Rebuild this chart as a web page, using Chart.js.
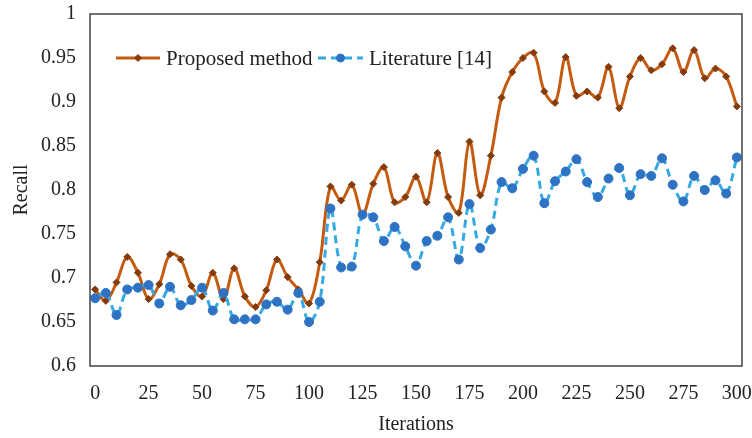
<!DOCTYPE html>
<html>
<head>
<meta charset="utf-8">
<script src="https://cdn.jsdelivr.net/npm/chart.js@4"></script>
<style>
  html, body { margin: 0; padding: 0; background: #fff; }
  #wrap { width: 752px; height: 438px; }
</style>
</head>
<body>
<div id="wrap"><canvas id="myChart" width="752" height="438"></canvas></div>
<script>
const iterations = [0, 5, 10, 15, 20, 25, 30, 35, 40, 45, 50, 55, 60, 65, 70, 75, 80, 85, 90, 95,
  100, 105, 110, 115, 120, 125, 130, 135, 140, 145, 150, 155, 160, 165, 170, 175, 180, 185, 190, 195,
  200, 205, 210, 215, 220, 225, 230, 235, 240, 245, 250, 255, 260, 265, 270, 275, 280, 285, 290, 295, 300];

const proposed = [0.687, 0.674, 0.695, 0.724, 0.706, 0.676, 0.693, 0.727, 0.721, 0.691,
  0.679, 0.706, 0.676, 0.711, 0.679, 0.667, 0.686, 0.721, 0.701, 0.687,
  0.671, 0.718, 0.804, 0.788, 0.806, 0.772, 0.807, 0.826, 0.786, 0.792,
  0.815, 0.786, 0.842, 0.792, 0.774, 0.855, 0.794, 0.839, 0.905, 0.934,
  0.950, 0.956, 0.912, 0.899, 0.951, 0.907, 0.912, 0.905, 0.940, 0.893,
  0.929, 0.950, 0.936, 0.943, 0.961, 0.934, 0.959, 0.927, 0.938, 0.929, 0.895];

const literature = [0.677, 0.683, 0.658, 0.687, 0.689, 0.692, 0.671, 0.690, 0.669, 0.675,
  0.689, 0.663, 0.683, 0.653, 0.653, 0.653, 0.670, 0.673, 0.664, 0.683,
  0.650, 0.673, 0.779, 0.712, 0.713, 0.772, 0.769, 0.742, 0.758, 0.736,
  0.714, 0.742, 0.748, 0.769, 0.721, 0.784, 0.734, 0.755, 0.809, 0.802,
  0.824, 0.839, 0.785, 0.810, 0.821, 0.835, 0.809, 0.792, 0.813, 0.825,
  0.794, 0.818, 0.816, 0.836, 0.806, 0.787, 0.816, 0.800, 0.811, 0.796, 0.837];

const xTicks = [0, 25, 50, 75, 100, 125, 150, 175, 200, 225, 250, 275, 300];
const seriesNames = ['Proposed method', 'Literature [14]'];

const serif = '"Liberation Serif", "Times New Roman", serif';
const textColor = '#222';

function toPoints(values) {
  return values.map((v, i) => ({ x: iterations[i], y: v }));
}

// box round the plot area
const frame = {
  id: 'frame',
  afterDraw(chart) {
    const { ctx, chartArea: a } = chart;
    ctx.save();
    ctx.strokeStyle = '#444';
    ctx.lineWidth = 1.5;
    ctx.strokeRect(a.left, a.top, a.right - a.left, a.bottom - a.top);
    ctx.restore();
  }
};

// legend drawn inside the plot, top left
const insideLegend = {
  id: 'insideLegend',
  afterDatasetsDraw(chart) {
    const { ctx } = chart;
    const y = 58;
    const items = [
      { ds: chart.data.datasets[0], x0: 116, x1: 160, r: 3.5 },
      { ds: chart.data.datasets[1], x0: 318, x1: 363, r: 4 }
    ];
    ctx.save();
    for (let item of items) {
      const ds = item.ds;
      ctx.strokeStyle = ds.borderColor;
      ctx.lineWidth = ds.borderWidth;
      ctx.setLineDash(ds.borderDash || []);
      ctx.beginPath();
      ctx.moveTo(item.x0, y);
      ctx.lineTo(item.x1, y);
      ctx.stroke();
      ctx.setLineDash([]);
      ctx.fillStyle = ds.pointBackgroundColor;
      ctx.strokeStyle = ds.pointBorderColor;
      ctx.lineWidth = 1;
      Chart.helpers.drawPoint(ctx, {
        pointStyle: ds.pointStyle,
        radius: item.r,
        borderWidth: 1
      }, (item.x0 + item.x1) / 2, y);
      ctx.fillStyle = textColor;
      ctx.font = '21px ' + serif;
      ctx.textBaseline = 'middle';
      ctx.textAlign = 'left';
      ctx.fillText(ds.label, item.x1 + 6, y + 1);
    }
    ctx.restore();
  }
};

const ctx = document.getElementById('myChart').getContext('2d');

const chart = new Chart(ctx, {
  type: 'line',
  data: {
    datasets: [{
      label: seriesNames[0],
      data: toPoints(proposed),
      borderColor: '#C55A11',
      borderWidth: 3,
      tension: 0.35,
      pointStyle: 'rectRot',
      pointRadius: 3.5,
      pointBackgroundColor: '#843C0C',
      pointBorderColor: '#843C0C',
      pointBorderWidth: 1,
      order: 2
    },
    {
      label: seriesNames[1],
      data: toPoints(literature),
      borderColor: '#34A9E2',
      borderWidth: 3,
      borderDash: [8, 5],
      tension: 0.35,
      pointStyle: 'circle',
      pointRadius: 4.5,
      pointBackgroundColor: '#2E72C4',
      pointBorderColor: '#2E72C4',
      pointBorderWidth: 1,
      order: 1
    }]
  },
  options: {
    responsive: false,
    animation: false,
    devicePixelRatio: 1,
    layout: { padding: { top: 14, right: 10, left: 0, bottom: 0 } },
    plugins: {
      legend: { display: false },
      tooltip: { enabled: false }
    },
    scales: {
      x: {
        type: 'linear',
        min: -2.4,
        max: 302.4,
        grid: { display: false, drawTicks: false },
        border: { display: false },
        afterBuildTicks(scale) {
          scale.ticks = xTicks.map(v => ({ value: v }));
        },
        afterFit(scale) {
          scale.height = 72;
          scale.paddingLeft = 0;
          scale.paddingRight = 0;
        },
        ticks: {
          padding: 16,
          color: textColor,
          font: { family: serif, size: 20 },
          maxRotation: 0,
          autoSkip: false
        },
        title: {
          display: true,
          text: 'Iterations',
          color: textColor,
          font: { family: serif, size: 20 },
          padding: { top: 0, bottom: 1 }
        }
      },
      y: {
        min: 0.6,
        max: 1,
        grid: { display: false, drawTicks: false },
        border: { display: false },
        afterFit(scale) {
          scale.width = 90;
          scale.paddingTop = 0;
          scale.paddingBottom = 0;
        },
        ticks: {
          stepSize: 0.05,
          padding: 14,
          color: textColor,
          font: { family: serif, size: 20 },
          callback: v => String(+v.toFixed(2))
        },
        title: {
          display: true,
          text: 'Recall',
          color: textColor,
          font: { family: serif, size: 20 },
          padding: { top: 10, bottom: 0 }
        }
      }
    }
  },
  plugins: [frame, insideLegend]
});
</script>
</body>
</html>
